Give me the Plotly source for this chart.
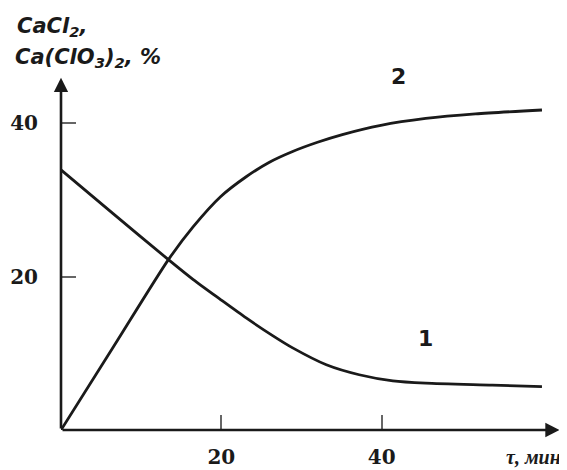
import plotly.graph_objects as go

# Curve 1: CaCl2 (decreasing)
t1 = [0, 6.5, 13.4, 16.5, 19.9, 23.1, 26.4, 28.9, 33.1, 37.2, 41.4, 45.5, 53.8, 60]
c1 = [33.9, 28.2, 22.2, 19.6, 17.0, 14.6, 12.3, 10.7, 8.5, 7.2, 6.4, 6.1, 5.85, 5.65]

# Curve 2: Ca(ClO3)2 (increasing)
t2 = [0, 6.7, 13.4, 16.5, 19.9, 23.1, 26.0, 28.9, 32.0, 35.1, 39.9, 45.5, 51.7, 60]
c2 = [0, 11.1, 22.2, 26.5, 30.4, 33.0, 34.9, 36.3, 37.5, 38.5, 39.7, 40.6, 41.2, 41.7]

tick_vals = [20, 40]
tick_text = ["20", "40"]
curve_labels = ["1", "2"]
curve_label_px = [(425, 338), (398, 76)]

OFF = 8  # page body margin
W, H = 567 - OFF, 470 - OFF
L, R, T, B = 61 - OFF, 5, 77 - OFF, 40
XMAX, YMAX = 62.5, 46.0
INK = "#1a1a1a"

def px_to_paper(px, py):
    px -= OFF
    py -= OFF
    pw = W - L - R
    ph = H - T - B
    return (px - L) / pw, (H - B - py) / ph

fig = go.Figure()
for t, c in [(t1, c1), (t2, c2)]:
    fig.add_trace(go.Scatter(x=t, y=c, mode="lines",
                             line=dict(color=INK, width=2.8, shape="spline", smoothing=0.7),
                             showlegend=False, hoverinfo="skip"))

ann = []
# axis arrows
for hx, hy in [(62.2, 0), (0, 45.9)]:
    ann.append(dict(x=hx, y=hy, ax=0, ay=0, xref="x", yref="y", axref="x", ayref="y",
                    showarrow=True, arrowhead=2, arrowsize=1.1, arrowwidth=2.6, arrowcolor=INK,
                    text="", standoff=0, startstandoff=0))
# curve labels
for lab, (lx, ly) in zip(curve_labels, curve_label_px):
    px, py = px_to_paper(lx, ly)
    ann.append(dict(x=px, y=py, xref="paper", yref="paper", text="<b>%s</b>" % lab, showarrow=False,
                    xanchor="center", yanchor="middle",
                    font=dict(family="DejaVu Sans", size=22, color=INK)))
# y-axis title (two lines)
for txt, (lx, ly) in [("<b><i>CaCl<sub>2</sub>,</i></b>", (15, 27)),
                      ("<b><i>Ca(ClO<sub>3</sub>)<sub>2</sub>, %</i></b>", (13, 58))]:
    px, py = px_to_paper(lx, ly)
    ann.append(dict(x=px, y=py, xref="paper", yref="paper", xanchor="left", yanchor="middle",
                    text=txt, showarrow=False, align="left",
                    font=dict(family="DejaVu Sans", size=21, color=INK)))
# x-axis title
px, py = px_to_paper(504, 457)
ann.append(dict(x=px, y=py, xref="paper", yref="paper", xanchor="left", yanchor="middle",
                text="<b><i>τ, мин</i></b>", showarrow=False,
                font=dict(family="Liberation Serif, Times New Roman", size=20, color=INK)))

tickfont = dict(family="DejaVu Serif", size=20, color=INK, weight="bold")
fig.update_layout(
    width=W, height=H,
    margin=dict(l=L, r=R, t=T, b=B),
    paper_bgcolor="white", plot_bgcolor="white",
    annotations=ann,
    xaxis=dict(range=[0, XMAX], tickvals=tick_vals, ticktext=tick_text, automargin=False,
               ticks="inside", ticklen=15, tickwidth=2, tickcolor="#666",
               showgrid=False, zeroline=False, showline=False,
               ticklabelstandoff=13, tickfont=tickfont),
    yaxis=dict(range=[0, YMAX], tickvals=tick_vals, ticktext=tick_text, automargin=False,
               ticks="inside", ticklen=15, tickwidth=2, tickcolor="#666",
               showgrid=False, zeroline=False, showline=False,
               ticklabelstandoff=22, tickfont=tickfont),
)

fig.write_html("out.html")
